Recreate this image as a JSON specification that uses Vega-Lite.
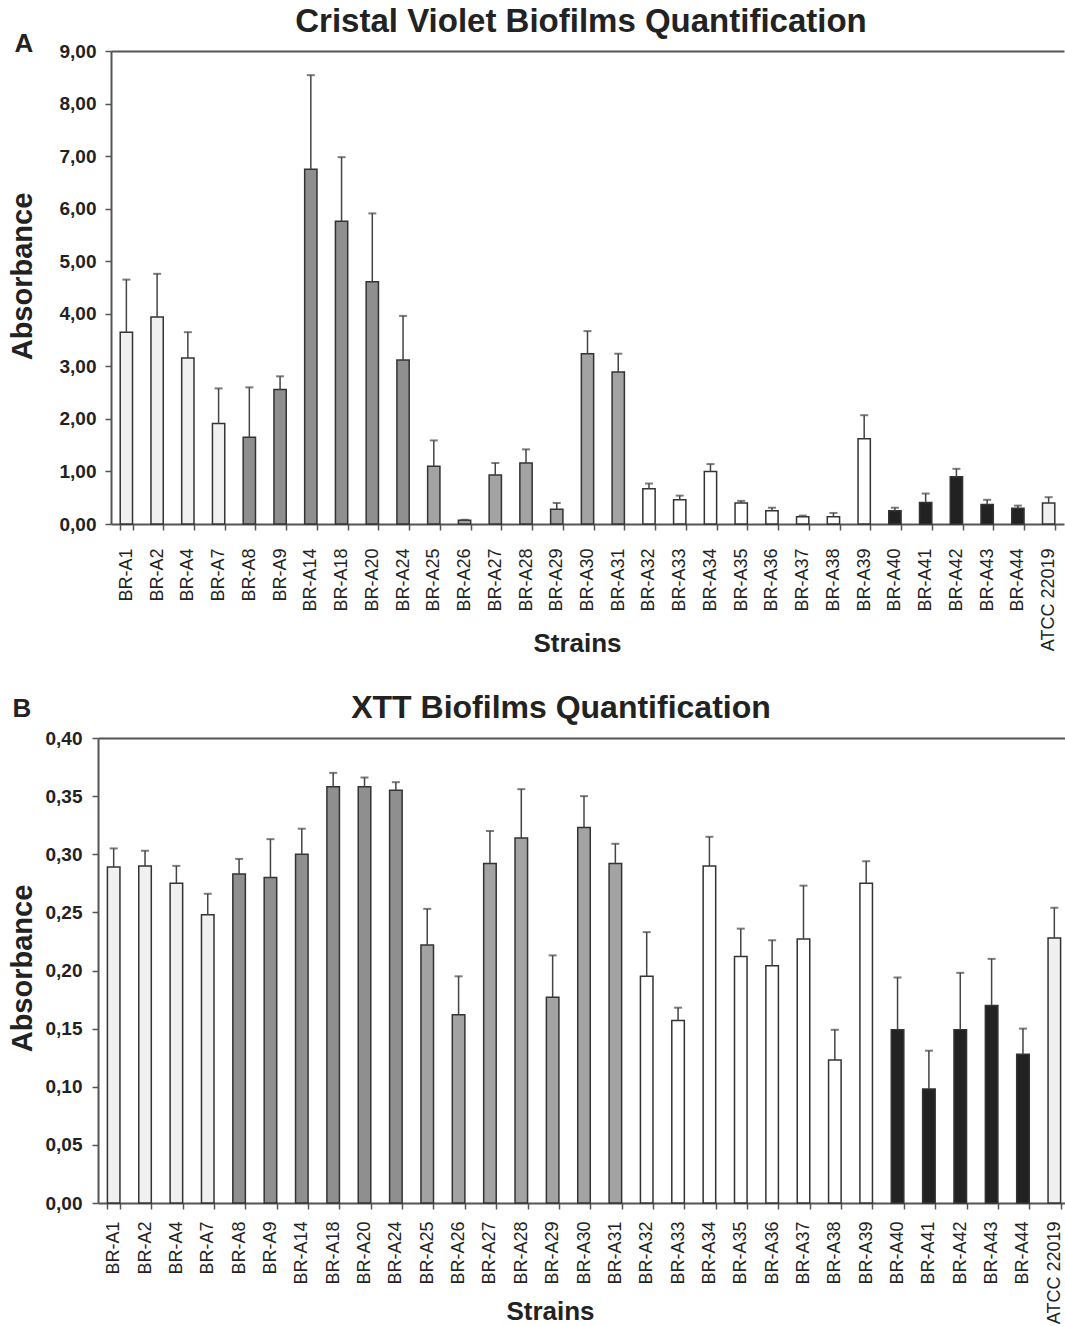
{
  "$schema": "https://vega.github.io/schema/vega-lite/v6.json",
  "background": "white",
  "padding": {"left": 8, "top": 6, "right": 0, "bottom": 0},
  "config": {
    "font": "Liberation Sans",
    "view": {"stroke": null},
    "axis": {"labelFont": "Liberation Sans", "titleFont": "Liberation Sans", "domainColor": "#555", "domainWidth": 2, "tickColor": "#555", "tickWidth": 1.5, "labelColor": "#222", "titleColor": "#222", "grid": false},
    "title": {"font": "Liberation Sans", "color": "#222"}
  },
  "data": {"values": [
    {"strain": "BR-A1", "group": "dots", "cv": 3.65, "cv_hi": 4.65, "xtt": 0.289, "xtt_hi": 0.305},
    {"strain": "BR-A2", "group": "dots", "cv": 3.94, "cv_hi": 4.76, "xtt": 0.290, "xtt_hi": 0.303},
    {"strain": "BR-A4", "group": "dots", "cv": 3.16, "cv_hi": 3.65, "xtt": 0.275, "xtt_hi": 0.290},
    {"strain": "BR-A7", "group": "dots", "cv": 1.91, "cv_hi": 2.58, "xtt": 0.248, "xtt_hi": 0.266},
    {"strain": "BR-A8", "group": "diag", "cv": 1.65, "cv_hi": 2.60, "xtt": 0.283, "xtt_hi": 0.296},
    {"strain": "BR-A9", "group": "diag", "cv": 2.56, "cv_hi": 2.81, "xtt": 0.280, "xtt_hi": 0.313},
    {"strain": "BR-A14", "group": "diag", "cv": 6.75, "cv_hi": 8.54, "xtt": 0.300, "xtt_hi": 0.322},
    {"strain": "BR-A18", "group": "diag", "cv": 5.76, "cv_hi": 6.98, "xtt": 0.358, "xtt_hi": 0.370},
    {"strain": "BR-A20", "group": "diag", "cv": 4.61, "cv_hi": 5.91, "xtt": 0.358, "xtt_hi": 0.366},
    {"strain": "BR-A24", "group": "diag", "cv": 3.12, "cv_hi": 3.96, "xtt": 0.355, "xtt_hi": 0.362},
    {"strain": "BR-A25", "group": "horiz", "cv": 1.10, "cv_hi": 1.59, "xtt": 0.222, "xtt_hi": 0.253},
    {"strain": "BR-A26", "group": "horiz", "cv": 0.07, "cv_hi": 0.08, "xtt": 0.162, "xtt_hi": 0.195},
    {"strain": "BR-A27", "group": "horiz", "cv": 0.93, "cv_hi": 1.16, "xtt": 0.292, "xtt_hi": 0.320},
    {"strain": "BR-A28", "group": "horiz", "cv": 1.16, "cv_hi": 1.42, "xtt": 0.314, "xtt_hi": 0.356},
    {"strain": "BR-A29", "group": "horiz", "cv": 0.28, "cv_hi": 0.40, "xtt": 0.177, "xtt_hi": 0.213},
    {"strain": "BR-A30", "group": "horiz", "cv": 3.24, "cv_hi": 3.67, "xtt": 0.323, "xtt_hi": 0.350},
    {"strain": "BR-A31", "group": "horiz", "cv": 2.89, "cv_hi": 3.24, "xtt": 0.292, "xtt_hi": 0.309},
    {"strain": "BR-A32", "group": "white", "cv": 0.67, "cv_hi": 0.77, "xtt": 0.195, "xtt_hi": 0.233},
    {"strain": "BR-A33", "group": "white", "cv": 0.46, "cv_hi": 0.54, "xtt": 0.157, "xtt_hi": 0.168},
    {"strain": "BR-A34", "group": "white", "cv": 1.00, "cv_hi": 1.14, "xtt": 0.290, "xtt_hi": 0.315},
    {"strain": "BR-A35", "group": "white", "cv": 0.40, "cv_hi": 0.44, "xtt": 0.212, "xtt_hi": 0.236},
    {"strain": "BR-A36", "group": "white", "cv": 0.25, "cv_hi": 0.31, "xtt": 0.204, "xtt_hi": 0.226},
    {"strain": "BR-A37", "group": "white", "cv": 0.14, "cv_hi": 0.16, "xtt": 0.227, "xtt_hi": 0.273},
    {"strain": "BR-A38", "group": "white", "cv": 0.14, "cv_hi": 0.21, "xtt": 0.123, "xtt_hi": 0.149},
    {"strain": "BR-A39", "group": "white", "cv": 1.62, "cv_hi": 2.07, "xtt": 0.275, "xtt_hi": 0.294},
    {"strain": "BR-A40", "group": "black", "cv": 0.25, "cv_hi": 0.31, "xtt": 0.149, "xtt_hi": 0.194},
    {"strain": "BR-A41", "group": "black", "cv": 0.41, "cv_hi": 0.58, "xtt": 0.098, "xtt_hi": 0.131},
    {"strain": "BR-A42", "group": "black", "cv": 0.90, "cv_hi": 1.05, "xtt": 0.149, "xtt_hi": 0.198},
    {"strain": "BR-A43", "group": "black", "cv": 0.37, "cv_hi": 0.46, "xtt": 0.170, "xtt_hi": 0.210},
    {"strain": "BR-A44", "group": "black", "cv": 0.30, "cv_hi": 0.35, "xtt": 0.128, "xtt_hi": 0.150},
    {"strain": "ATCC 22019", "group": "dots", "cv": 0.40, "cv_hi": 0.51, "xtt": 0.228, "xtt_hi": 0.254}
  ]},
  "columns": 1,
  "spacing": 36,
  "concat": [
    {
      "width": 966,
      "height": 473,
      "title": {"text": "Cristal Violet Biofilms Quantification", "fontSize": 33, "fontWeight": "bold", "anchor": "middle", "frame": "group", "offset": -9, "dx": 0},
      "layer": [
        {
          "mark": {"type": "bar", "stroke": "#333", "strokeWidth": 1.5},
          "encoding": {
            "x": {"field": "strain", "type": "nominal", "sort": null, "scale": {"paddingInner": 0.6, "paddingOuter": 0.3, "rangeMin": 13},
              "axis": {"title": "Strains", "titleFontSize": 26, "titleFontWeight": "bold", "titleX": 479, "titleY": 119, "titleAlign": "center", "titleBaseline": "middle", "labelAngle": -90, "labelFontSize": 18, "labelPadding": 18, "tickBand": "extent", "tickSize": 6}},
            "y": {"field": "cv", "type": "quantitative", "title": "Absorbance", "scale": {"domain": [0, 9]},
              "axis": {"offset": -13, "values": [0, 1, 2, 3, 4, 5, 6, 7, 8, 9], "labelExpr": "replace(format(datum.value, '.2f'), '.', ',')", "labelFontSize": 19, "labelFontWeight": "bold", "tickSize": 6, "labelPadding": 9, "titleFontSize": 29, "titleFontWeight": "bold", "titleX": -89, "titleY": 225, "titleAngle": -90, "titleAlign": "center", "titleBaseline": "middle"}},
            "fill": {"field": "group", "type": "nominal", "scale": {"domain": ["dots", "diag", "horiz", "white", "black"], "range": ["#f0f0f0", "#8f8f8f", "#a3a3a3", "#ffffff", "#222222"]}, "legend": null}
          }
        },
        {
          "mark": {"type": "rule", "stroke": "#444", "strokeWidth": 1.5},
          "encoding": {
            "x": {"field": "strain", "type": "nominal", "sort": null,
              "axis": {"orient": "top", "labels": false, "ticks": false, "title": "A", "titleX": -84, "titleY": -8, "titleAngle": 0, "titleAlign": "left", "titleBaseline": "middle", "titleFontSize": 26, "titleFontWeight": "bold"}},
            "y": {"field": "cv", "type": "quantitative", "title": "Absorbance"},
            "y2": {"field": "cv_hi"}
          }
        },
        {
          "mark": {"type": "tick", "color": "#444", "thickness": 2, "size": 8},
          "encoding": {
            "x": {"field": "strain", "type": "nominal", "sort": null, "axis": null},
            "y": {"field": "cv_hi", "type": "quantitative", "title": "Absorbance"}
          }
        }
      ],
      "resolve": {"axis": {"x": "independent"}}
    },
    {
      "width": 972,
      "height": 465,
      "title": {"text": "XTT Biofilms Quantification", "fontSize": 32, "fontWeight": "bold", "anchor": "middle", "frame": "group", "offset": -30, "dx": -23},
      "layer": [
        {
          "mark": {"type": "bar", "stroke": "#333", "strokeWidth": 1.5},
          "encoding": {
            "x": {"field": "strain", "type": "nominal", "sort": null, "scale": {"paddingInner": 0.6, "paddingOuter": 0.3},
              "axis": {"title": "Strains", "titleFontSize": 26, "titleFontWeight": "bold", "titleX": 452, "titleY": 108, "titleAlign": "center", "titleBaseline": "middle", "labelAngle": -90, "labelFontSize": 18, "labelPadding": 12, "tickBand": "extent", "tickSize": 6}},
            "y": {"field": "xtt", "type": "quantitative", "title": "Absorbance", "scale": {"domain": [0, 0.4]},
              "axis": {"values": [0, 0.05, 0.1, 0.15, 0.2, 0.25, 0.3, 0.35, 0.4], "labelExpr": "replace(format(datum.value, '.2f'), '.', ',')", "labelFontSize": 19, "labelFontWeight": "bold", "tickSize": 6, "labelPadding": 10, "titleFontSize": 29, "titleFontWeight": "bold", "titleX": -76, "titleY": 230, "titleAngle": -90, "titleAlign": "center", "titleBaseline": "middle"}},
            "fill": {"field": "group", "type": "nominal", "scale": {"domain": ["dots", "diag", "horiz", "white", "black"], "range": ["#f0f0f0", "#8f8f8f", "#a3a3a3", "#ffffff", "#222222"]}, "legend": null}
          }
        },
        {
          "mark": {"type": "rule", "stroke": "#444", "strokeWidth": 1.5},
          "encoding": {
            "x": {"field": "strain", "type": "nominal", "sort": null,
              "axis": {"orient": "top", "labels": false, "ticks": false, "title": "B", "titleX": -86, "titleY": -30, "titleAngle": 0, "titleAlign": "left", "titleBaseline": "middle", "titleFontSize": 26, "titleFontWeight": "bold"}},
            "y": {"field": "xtt", "type": "quantitative", "title": "Absorbance"},
            "y2": {"field": "xtt_hi"}
          }
        },
        {
          "mark": {"type": "tick", "color": "#444", "thickness": 2, "size": 8},
          "encoding": {
            "x": {"field": "strain", "type": "nominal", "sort": null, "axis": null},
            "y": {"field": "xtt_hi", "type": "quantitative", "title": "Absorbance"}
          }
        }
      ],
      "resolve": {"axis": {"x": "independent"}}
    }
  ]
}
